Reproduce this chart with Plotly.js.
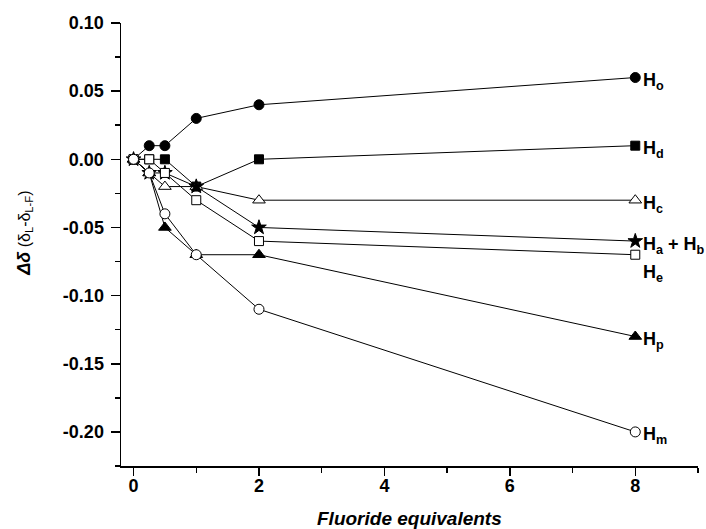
<!DOCTYPE html>
<html>
<head>
<meta charset="utf-8">
<script src="https://cdn.plot.ly/plotly-3.0.1.min.js"></script>
<style>html,body{margin:0;padding:0;background:#fff}#chart{width:706px;height:529px}</style>
</head>
<body>
<div id="chart"></div>
<script>
const equivalents = [0, 0.25, 0.5, 1, 2, 8];
const Ho = [0, 0.01, 0.01, 0.03, 0.04, 0.06];
const Hd = [0, 0, 0, -0.02, 0, 0.01];
const Hc = [0, -0.01, -0.02, -0.02, -0.03, -0.03];
const Hab = [0, -0.01, -0.01, -0.02, -0.05, -0.06];
const He = [0, 0, -0.01, -0.03, -0.06, -0.07];
const Hp = [0, -0.01, -0.05, -0.07, -0.07, -0.13];
const Hm = [0, -0.01, -0.04, -0.07, -0.11, -0.20];

const xTickVals = [0, 2, 4, 6, 8];
const xTickText = ['0', '2', '4', '6', '8'];
const yTickVals = [0.10, 0.05, 0, -0.05, -0.10, -0.15, -0.20];
const yTickText = ['0.10', '0.05', '0.00', '-0.05', '-0.10', '-0.15', '-0.20'];

const seriesNames = ['H<sub>o</sub>', 'H<sub>d</sub>', 'H<sub>c</sub>', 'H<sub>a</sub> + H<sub>b</sub>', 'H<sub>e</sub>', 'H<sub>p</sub>', 'H<sub>m</sub>'];
const seriesValues = [Ho, Hd, Hc, Hab, He, Hp, Hm];
const symbols = ['circle', 'square', 'triangle-up', 'star', 'square', 'triangle-up', 'circle'];
const fills = ['black', 'black', 'white', 'black', 'white', 'black', 'white'];
const sizes = [10, 9, 11, 11, 9, 11, 10];
const labelShift = [0, 0, 0, 0, -15, 0, 0];

const traces = seriesValues.map((vals, i) => ({
  x: equivalents, y: vals, type: 'scatter', mode: 'lines+markers',
  name: seriesNames[i],
  line: {color: 'black', width: 1},
  marker: {symbol: symbols[i], size: sizes[i], color: fills[i], line: {color: 'black', width: 1}},
  cliponaxis: false
}));

const labelFont = {family: 'Liberation Sans, Arial, sans-serif', size: 18, color: 'black'};
const annotations = seriesValues.map((vals, i) => ({
  xref: 'x', yref: 'y', x: equivalents[equivalents.length - 1], y: vals[vals.length - 1],
  text: '<b>' + seriesNames[i] + '</b>', showarrow: false, xanchor: 'left', yanchor: 'middle',
  xshift: 6, yshift: labelShift[i] - 4, font: labelFont
}));
annotations.push({
  xref: 'paper', yref: 'paper', x: 0.5, y: 0, yanchor: 'middle', yshift: -52,
  text: '<b><i>Fluoride equivalents</i></b>', showarrow: false,
  font: {family: 'Liberation Sans, Arial, sans-serif', size: 19, color: 'black'}
});
annotations.push({
  xref: 'paper', yref: 'paper', x: 0, y: 0.524, xanchor: 'center', yanchor: 'middle', xshift: -96,
  textangle: -90,
  text: '<b><i><span style="font-size:18px">Δδ</span></i></b> (δ<sub>L</sub>-δ<sub>L-F</sub>)', showarrow: false,
  font: {family: 'Liberation Sans, Arial, sans-serif', size: 16, color: 'black'}
});

const tickFont = {family: 'Liberation Sans, Arial, sans-serif', size: 18, color: 'black'};
const layout = {
  width: 706, height: 529,
  margin: {l: 121, r: 8, t: 23, b: 63},
  paper_bgcolor: 'white', plot_bgcolor: 'white',
  showlegend: false,
  xaxis: {
    range: [-0.2, 9.0], tickmode: 'array', tickvals: xTickVals, ticktext: xTickText.map(t => '<b>' + t + '</b>'),
    ticks: 'outside', ticklen: 8, tickwidth: 1.5, tickcolor: 'black',
    minor: {tickmode: 'linear', dtick: 1, tick0: 0, ticks: 'outside', ticklen: 5, tickwidth: 1.5, tickcolor: 'black'},
    showline: true, linecolor: 'black', linewidth: 1.5,
    showgrid: false, zeroline: false, tickfont: tickFont, ticklabelstandoff: -5
  },
  yaxis: {
    range: [-0.225, 0.10], tickmode: 'array', tickvals: yTickVals, ticktext: yTickText.map(t => '<b>' + t + '</b>'),
    ticks: 'outside', ticklen: 9, tickwidth: 1.5, tickcolor: 'black',
    minor: {tickmode: 'linear', dtick: 0.025, tick0: 0, ticks: 'outside', ticklen: 5, tickwidth: 1.5, tickcolor: 'black'},
    showline: true, linecolor: 'black', linewidth: 1.5,
    showgrid: false, zeroline: false, tickfont: tickFont, ticklabelstandoff: 3
  },
  annotations: annotations
};
Plotly.newPlot('chart', traces, layout, {displayModeBar: false, staticPlot: true});
</script>
</body>
</html>
